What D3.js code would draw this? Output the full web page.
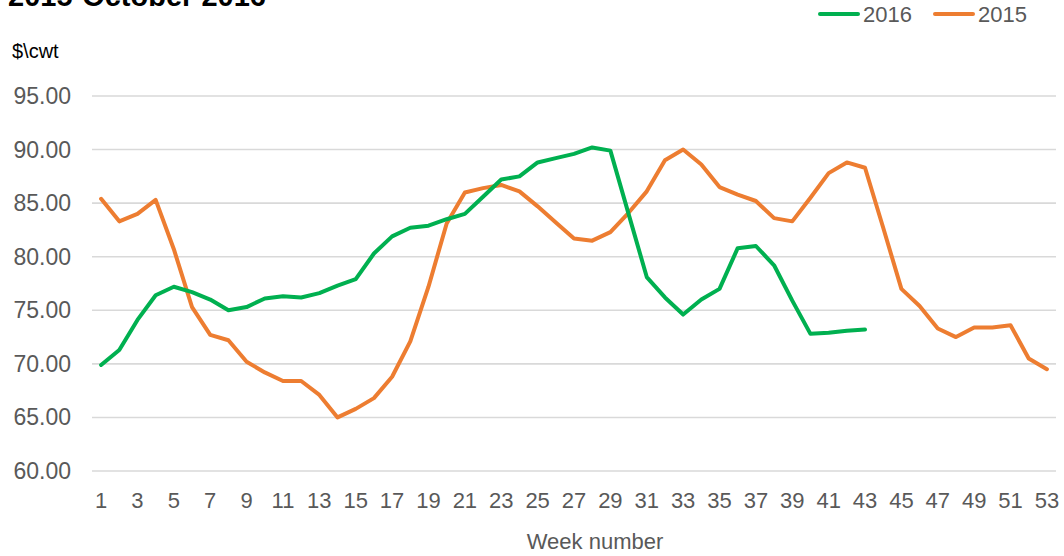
<!DOCTYPE html>
<html>
<head>
<meta charset="utf-8">
<script src="https://cdn.jsdelivr.net/npm/d3@7"></script>
<style>
  body { margin: 0; background: #fff; }
  svg { font-family: "Liberation Sans", Arial, sans-serif; }
</style>
</head>
<body>
<svg width="1064" height="556"></svg>
<script>
// weekly prices, $/cwt
const weeks = d3.range(1, 54);
const price2016 = [69.9, 71.3, 74.1, 76.4, 77.2, 76.7, 76.0, 75.0, 75.3, 76.1,
  76.3, 76.2, 76.6, 77.3, 77.9, 80.3, 81.9, 82.7, 82.9, 83.5,
  84.0, 85.6, 87.2, 87.5, 88.8, 89.2, 89.6, 90.2, 89.9, 84.0,
  78.1, 76.2, 74.6, 76.0, 77.0, 80.8, 81.0, 79.2, 75.9, 72.8,
  72.9, 73.1, 73.2];
const price2015 = [85.4, 83.3, 84.0, 85.3, 80.7, 75.3, 72.7, 72.2, 70.2, 69.2,
  68.4, 68.4, 67.1, 65.0, 65.8, 66.8, 68.8, 72.1, 77.2, 83.1,
  86.0, 86.4, 86.7, 86.1, 84.7, 83.2, 81.7, 81.5, 82.3, 84.1,
  86.1, 89.0, 90.0, 88.6, 86.5, 85.8, 85.2, 83.6, 83.3, 85.5,
  87.8, 88.8, 88.3, 82.7, 77.0, 75.4, 73.3, 72.5, 73.4, 73.4,
  73.6, 70.5, 69.5];
const yTicks = [60, 65, 70, 75, 80, 85, 90, 95];

const svg = d3.select('svg');
const margin = {left: 92, right: 8, top: 96, bottom: 85};
const width = 1064;
const height = 556;

const x = d3.scaleBand()
    .domain(weeks)
    .range([margin.left, width - margin.right]);
const y = d3.scaleLinear()
    .domain([60, 95])
    .range([height - margin.bottom, margin.top]);

// gridlines
svg.append('g')
    .selectAll('line')
    .data(yTicks)
    .enter()
    .append('line')
    .attr('x1', margin.left)
    .attr('x2', width - margin.right)
    .attr('y1', (d) => y(d))
    .attr('y2', (d) => y(d))
    .style('stroke', '#d9d9d9')
    .style('stroke-width', '1.6px');

// y labels
svg.append('g')
    .selectAll('text')
    .data(yTicks)
    .enter()
    .append('text')
    .attr('x', 71)
    .attr('y', (d) => y(d) + 8)
    .attr('text-anchor', 'end')
    .style('font-size', '23px')
    .style('fill', '#595959')
    .text((d) => d.toFixed(2));

// x labels, every other week
svg.append('g')
    .selectAll('text')
    .data(weeks.filter((d) => d % 2 === 1))
    .enter()
    .append('text')
    .attr('x', (d) => x(d) + x.bandwidth() / 2)
    .attr('y', 508)
    .attr('text-anchor', 'middle')
    .style('font-size', '22px')
    .style('fill', '#595959')
    .text((d) => d);

svg.append('text')
    .attr('x', 595)
    .attr('y', 549)
    .attr('text-anchor', 'middle')
    .style('font-size', '22px')
    .style('fill', '#595959')
    .text('Week number');

svg.append('text')
    .attr('x', 12)
    .attr('y', 58)
    .style('font-size', '20px')
    .style('fill', '#000')
    .text('$\\cwt');

svg.append('text')
    .attr('x', 8)
    .attr('y', 6)
    .style('font-size', '29px')
    .style('font-weight', 'bold')
    .style('fill', '#000')
    .text('2015-October 2016');

const line = d3.line()
    .x((d, i) => x(weeks[i]) + x.bandwidth() / 2)
    .y((d) => y(d));

const series = [
  {name: '2016', values: price2016, color: '#00b050'},
  {name: '2015', values: price2015, color: '#ed7d31'},
];

svg.selectAll('path.series')
    .data(series.slice().reverse())
    .enter()
    .append('path')
    .attr('class', 'series')
    .attr('d', (d) => line(d.values))
    .style('fill', 'none')
    .style('stroke', (d) => d.color)
    .style('stroke-width', '4px')
    .style('stroke-linejoin', 'round')
    .style('stroke-linecap', 'round');

// legend
const legendX = [820, 935];
const legend = svg.append('g')
    .selectAll('g')
    .data(series)
    .enter()
    .append('g')
    .attr('transform', (d, i) => `translate(${legendX[i]},14)`);
legend.append('line')
    .attr('x1', 0)
    .attr('x2', 38)
    .style('stroke', (d) => d.color)
    .style('stroke-width', '4px')
    .style('stroke-linecap', 'round');
legend.append('text')
    .attr('x', 43)
    .attr('y', 8)
    .style('font-size', '22px')
    .style('fill', '#595959')
    .text((d) => d.name);
</script>
</body>
</html>
